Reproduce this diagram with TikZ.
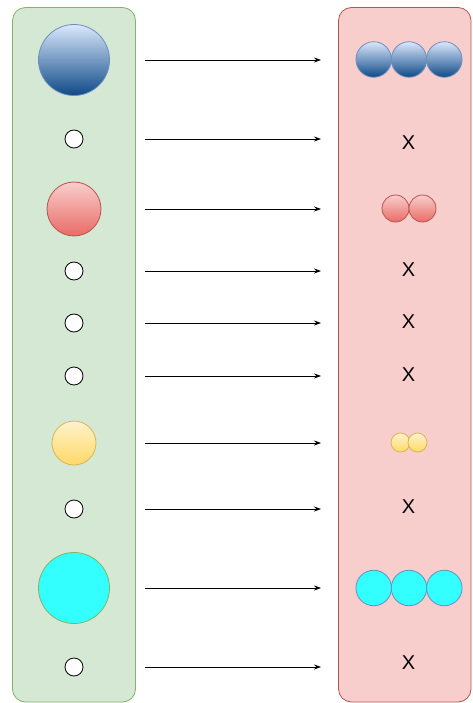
\documentclass[tikz,border=0pt]{standalone}
\usepackage{fontspec}
\setmainfont{Liberation Sans}
\usetikzlibrary{arrows.meta}
\definecolor{gfill}{HTML}{D5E8D4}
\definecolor{gstroke}{HTML}{82B366}
\definecolor{rfill}{HTML}{F8CECC}
\definecolor{rstroke}{HTML}{B85450}
\definecolor{btop}{HTML}{DAE8FC}
\definecolor{bbot}{HTML}{0F4A87}
\definecolor{bstroke}{HTML}{6C8EBF}
\definecolor{redtop}{HTML}{F8CECC}
\definecolor{redbot}{HTML}{EA6B66}
\definecolor{ytop}{HTML}{FFF2CC}
\definecolor{ybot}{HTML}{FFD966}
\definecolor{ystroke}{HTML}{D6B656}
\definecolor{cyanf}{HTML}{33FFFF}
\tikzset{
  panel/.style={rounded corners=13pt, line width=0.8pt},
  ball/.style={circle, inner sep=0pt, outer sep=0pt, line width=0.8pt},
  blueball/.style={ball, top color=btop, bottom color=bbot, draw=bstroke},
  redball/.style={ball, top color=redtop, bottom color=redbot, draw=rstroke},
  yelball/.style={ball, top color=ytop, bottom color=ybot, draw=ystroke},
  cyanball/.style={ball, fill=cyanf, draw=bstroke},
  empty/.style={ball, fill=white, draw=black, minimum size=18pt},
  cross/.style={font=\fontsize{20}{20}\selectfont, inner sep=0pt},
  conn/.style={-{Stealth[length=7pt,width=5pt]}, line width=0.7pt, black},
}
\begin{document}
\begin{tikzpicture}[x=1pt,y=-1pt]
\useasboundingbox (0,0) rectangle (472,703);
% panels
\draw[panel, fill=gfill, draw=gstroke] (12.5,7.5) rectangle (135.5,702);
\draw[panel, fill=rfill, draw=rstroke] (338.5,7.5) rectangle (471,702);
% left column
\node[blueball, minimum size=71pt] (l1) at (74,60) {};
\node[empty] (l2) at (74,139) {};
\node[redball, minimum size=54pt] (l3) at (74,209) {};
\node[empty] (l4) at (74,271) {};
\node[empty] (l5) at (74,323) {};
\node[empty] (l6) at (74,376) {};
\node[yelball, minimum size=44pt] (l7) at (74,443) {};
\node[empty] (l8) at (74,509) {};
\node[ball, fill=cyanf, draw=gstroke, minimum size=71pt] (l9) at (74,588) {};
\node[empty] (l10) at (74,667) {};
% right column
\node[blueball, minimum size=35.5pt] (r1a) at (373.7,59.5) {};
\node[blueball, minimum size=35.5pt] (r1b) at (409,59.5) {};
\node[blueball, minimum size=35.5pt] (r1c) at (444.3,59.5) {};
\node[cross] (r2) at (408.5,142.5) {X};
\node[redball, minimum size=27pt] (r3a) at (395.5,208.5) {};
\node[redball, minimum size=27pt] (r3b) at (422.5,208.5) {};
\node[cross] (r4) at (408.5,270) {X};
\node[cross] (r5) at (408.5,322) {X};
\node[cross] (r6) at (408.5,375) {X};
\node[yelball, minimum size=19pt] (r7a) at (400.5,442.5) {};
\node[yelball, minimum size=19pt] (r7b) at (417.5,442.5) {};
\node[cross] (r8) at (408.5,507) {X};
\node[cyanball, minimum size=35.5pt] (r9a) at (373.7,588) {};
\node[cyanball, minimum size=35.5pt] (r9b) at (409,588) {};
\node[cyanball, minimum size=35.5pt] (r9c) at (444.3,588) {};
\node[cross] (r10) at (408.5,662.5) {X};
% arrows
\foreach \i/\y in {1/60,2/139,3/209,4/271,5/323,6/376,7/443,8/509,9/588,10/667}{
  \coordinate (s\i) at (145,\y);
  \coordinate (e\i) at (321,\y);
  \draw[conn] (s\i) -- (e\i);
}
\end{tikzpicture}
\end{document}
